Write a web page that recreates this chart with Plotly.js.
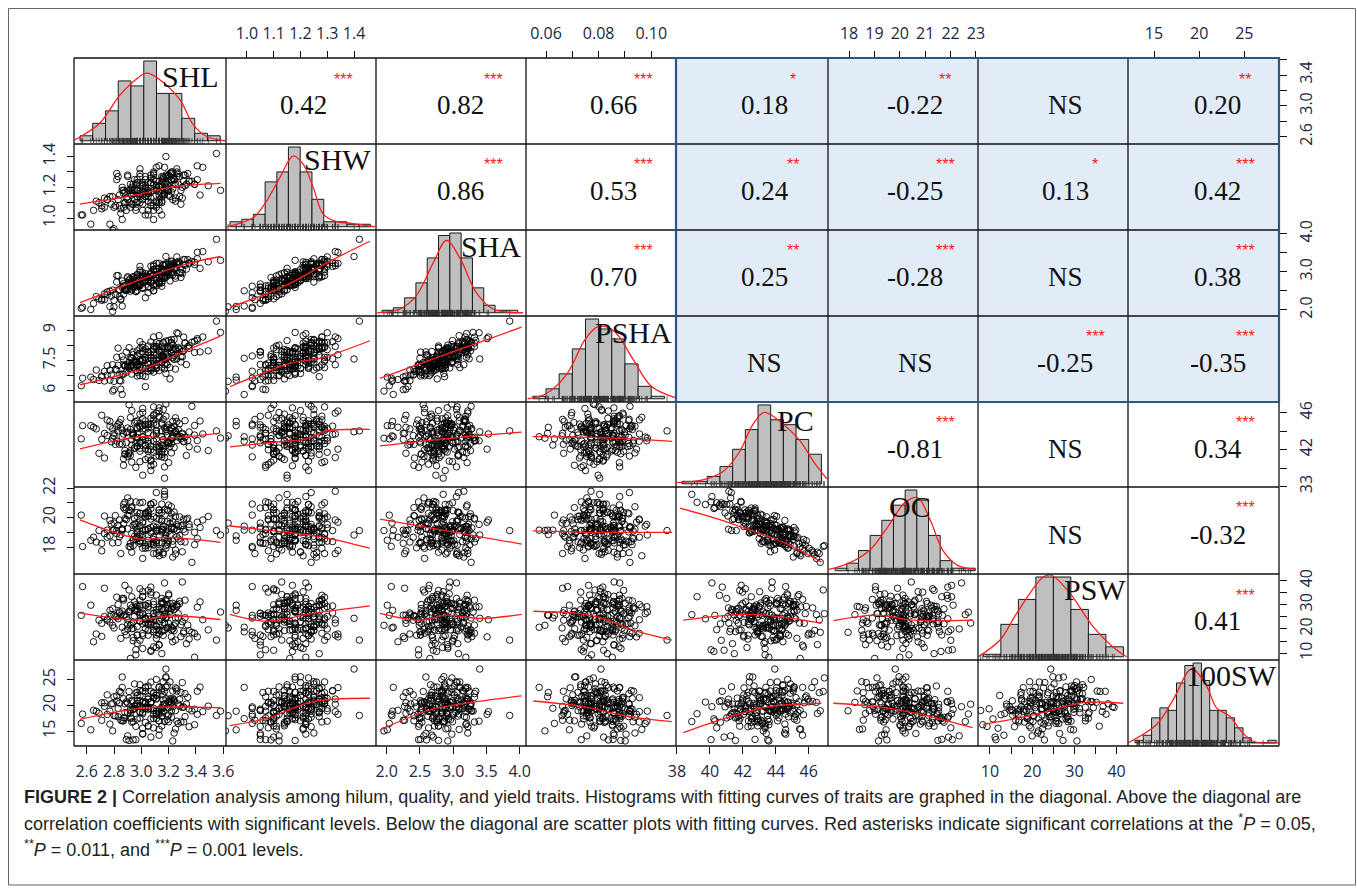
<!DOCTYPE html>
<html>
<head>
<meta charset="utf-8">
<script src="https://cdn.plot.ly/plotly-3.0.1.min.js"></script>
<style>html,body{margin:0;padding:0;background:#fff}#chart{width:1357px;height:891px}</style>
</head>
<body>
<div id="chart"></div>
<script>
// ---------------- sample values (one entry per accession) ----------------
const SHL = [3.11,2.82,3.20,3.07,2.96,3.35,3.01,3.16,2.88,3.05,3.26,2.97,2.73,3.15,3.22,3.03,3.09,2.92,3.30,2.86,
 3.13,3.18,2.99,2.65,3.24,2.94,3.07,3.39,2.90,3.11,3.01,3.16,2.80,3.22,3.05,2.96,3.32,2.84,3.09,3.15,
 2.88,3.55,2.99,3.18,2.94,3.07,2.77,3.20,3.13,3.03,3.28,2.92,3.11,2.97,3.16,2.69,3.05,3.24,3.01,3.22,
 2.84,3.13,3.34,2.96,3.09,2.90,3.18,2.99,3.37,2.78,3.07,3.15,2.94,3.26,3.03,2.86,3.20,3.11,2.56,3.16,
 2.97,3.30,3.01,3.05,3.22,2.82,3.13,2.92,3.58,2.99,3.18,2.88,3.09,3.24,2.96,3.07,2.75,3.15,3.03,3.28,
 2.94,3.11,3.20,2.80,3.16,3.01,3.41,2.90,3.05,2.97,3.32,2.86,3.09,3.18,2.99,2.71,3.26,3.13,2.92,3.22,
 3.17,2.87,3.05,3.27,2.97,2.71,3.15,3.23,3.03,3.09,2.91,3.31,2.85,3.13,3.19,2.99,2.63,3.25,2.93,3.07,
 3.41,2.89,3.11,3.01,3.17,2.79,3.23,3.05,2.95,3.33,2.83,3.09,3.15,2.87,3.49,2.99,3.19,2.93,3.07,2.75,
 3.21,3.13,3.03,3.29,2.91,3.11,2.97,3.17,2.67,3.05,3.25,3.01,3.23,2.83,3.13,3.35,2.95,3.09,2.89,3.19,
 2.99,3.39,2.77,3.07,3.15,2.93,3.27,3.03,2.85,3.21,3.11,2.57,3.17,2.97,3.31,3.01,3.05,3.23,2.81,3.13,
 2.91,3.45,2.99,3.19,2.87,3.09,3.25,2.95,3.07,2.73,3.15,3.03,3.29,2.93,3.11,3.21,2.79,3.17,3.01,3.43];
const SHW = [1.11,1.29,1.18,1.23,1.10,1.24,1.05,1.25,1.17,1.16,1.30,1.10,1.13,1.16,1.25,1.02,1.18,1.22,1.20,1.20,
 1.10,1.23,1.27,1.05,1.22,1.09,1.23,1.22,1.27,1.07,1.17,1.23,1.07,1.29,1.16,1.07,1.28,1.15,0.99,1.24,
 1.10,1.42,1.14,1.20,1.22,1.08,1.14,1.15,1.34,1.14,1.27,1.07,1.20,1.23,1.15,1.10,1.05,1.25,1.15,1.30,
 1.08,1.21,1.29,1.05,1.22,1.12,1.40,1.10,1.24,1.09,1.28,1.11,1.16,1.27,1.14,0.99,1.28,1.21,1.02,1.26,
 1.18,1.13,1.22,1.18,1.17,1.25,1.17,1.19,1.18,1.16,1.28,1.10,1.05,1.25,1.22,1.17,1.12,1.14,1.27,1.14,
 1.18,1.24,1.18,0.93,1.27,1.12,1.25,1.28,1.11,1.18,1.21,1.18,1.08,1.27,1.16,1.06,1.32,1.10,1.16,1.24,
 1.16,1.18,1.02,1.22,1.23,1.08,1.27,1.12,1.20,1.30,1.10,1.24,1.06,1.24,1.18,1.29,0.96,1.22,1.18,1.13,
 1.34,1.13,1.10,1.23,1.22,0.92,1.26,1.14,1.25,1.22,1.12,1.25,1.10,1.16,1.21,1.32,1.18,1.20,1.10,1.12,
 1.29,1.15,1.17,1.09,1.18,1.18,1.25,1.15,1.11,1.23,1.11,1.21,1.19,1.27,1.12,1.24,1.12,1.29,1.05,1.22,
 1.21,1.22,0.96,1.26,1.22,1.09,1.29,1.19,1.03,1.27,1.19,1.02,1.33,1.14,1.28,1.09,1.17,1.30,1.08,1.05,
 1.18,1.33,1.15,1.22,1.07,1.28,1.13,1.18,1.23,1.07,1.02,1.25,1.18,1.15,1.33,1.14,1.14,1.18,1.21,1.15];
const SHA = [2.68,2.90,3.00,2.88,2.60,3.22,2.59,3.05,2.64,2.76,3.39,2.51,2.42,2.90,3.12,2.32,2.92,2.82,3.06,2.76,
 2.72,2.98,3.04,2.17,3.07,2.60,2.94,3.25,2.84,2.63,2.83,3.02,2.25,3.26,2.84,2.48,3.32,2.53,2.50,2.98,
 2.52,3.85,2.67,2.86,2.87,2.57,2.49,2.99,3.22,2.74,3.23,2.49,2.84,2.93,2.87,2.29,2.60,3.08,2.74,3.28,
 2.35,3.09,3.32,2.48,2.92,2.56,3.40,2.63,3.27,2.36,3.15,2.71,2.70,3.19,2.76,2.10,3.21,3.01,2.04,3.17,
 2.68,2.95,2.98,2.79,2.96,2.73,2.91,2.71,3.30,2.64,3.19,2.52,2.51,3.22,2.83,2.75,2.47,2.82,2.87,2.97,
 2.69,3.08,2.94,2.08,3.19,2.57,3.34,2.87,2.78,2.73,3.17,2.59,2.63,3.21,2.69,2.25,3.24,2.74,2.65,3.20,
 2.83,2.69,2.45,3.20,2.83,2.29,3.08,2.92,2.79,3.14,2.55,3.19,2.29,3.09,2.96,2.99,2.01,3.11,2.66,2.76,
 3.51,2.53,2.78,2.88,3.05,1.96,3.16,2.78,2.87,3.07,2.52,3.06,2.72,2.63,3.26,3.14,2.89,2.78,2.70,2.40,
 3.10,2.87,2.76,2.85,2.78,2.83,2.92,2.85,2.35,2.88,2.89,2.85,2.99,2.90,2.71,3.23,2.61,3.06,2.51,3.02,
 2.88,3.19,2.09,2.95,3.05,2.53,3.27,2.89,2.27,3.18,2.88,2.07,3.16,2.65,3.32,2.57,2.85,3.20,2.41,2.68,
 2.67,3.53,2.66,3.07,2.41,3.18,2.83,2.74,2.98,2.27,2.62,2.95,2.98,2.69,3.22,2.76,2.52,2.91,2.92,3.09];
const PSHA = [7.52,8.20,8.83,7.50,7.89,8.80,8.56,8.11,7.62,7.73,9.83,6.96,7.27,8.57,8.51,6.26,8.77,8.17,8.24,8.27,
 8.06,7.80,8.79,6.73,8.32,8.37,8.16,9.27,7.55,7.72,8.58,8.25,6.06,9.15,8.51,7.34,9.15,7.06,8.14,7.87,
 7.61,10.60,7.59,7.13,8.55,7.32,7.35,9.31,8.37,8.03,8.77,7.68,7.45,8.63,8.18,6.67,8.34,8.06,7.98,9.18,
 6.66,9.64,8.91,7.73,7.94,7.55,8.09,8.06,9.19,7.03,9.22,7.54,7.91,8.60,8.21,5.74,8.79,8.90,6.32,9.16,
 7.21,8.59,9.04,7.73,8.46,7.36,8.58,7.62,9.85,6.99,8.80,7.67,7.22,9.38,7.95,7.42,7.65,8.24,6.92,8.71,
 7.55,9.17,8.23,6.61,9.19,6.98,9.33,7.70,8.95,7.69,9.14,7.09,7.82,9.28,7.53,6.90,8.10,8.18,7.61,9.38,
 7.44,8.03,7.28,9.77,7.61,6.96,8.33,9.01,7.47,8.71,7.86,8.63,6.09,9.11,8.55,7.94,6.89,8.79,7.09,8.35,
 9.44,7.21,8.82,8.02,8.80,5.96,8.71,8.53,7.88,7.72,7.67,8.94,7.85,7.73,8.63,9.24,7.71,8.12,8.19,7.02,
 7.52,8.67,7.61,8.25,8.84,7.66,8.33,8.04,7.36,7.47,8.71,8.07,8.16,8.81,7.32,8.98,7.89,8.02,8.55,8.29,
 8.47,8.52,6.69,7.50,8.89,7.67,8.86,8.76,6.63,8.89,7.96,6.82,7.71,7.71,9.54,7.48,8.54,8.20,7.42,8.59,
 7.46,9.55,7.32,8.89,7.08,9.55,7.42,7.90,8.58,6.63,8.29,8.20,7.90,8.17,8.92,6.77,7.71,8.04,8.85,8.56];
const PC = [43.98,44.52,42.75,39.73,45.04,42.31,43.42,46.36,41.90,43.85,42.96,44.27,41.09,44.88,43.26,42.49,45.68,41.38,43.67,44.11,
 41.77,46.95,42.83,44.43,42.22,43.51,40.75,44.62,43.92,43.16,45.34,42.06,43.77,42.66,44.36,40.07,43.34,44.94,42.91,44.79,
 41.47,44.03,45.85,42.41,43.60,41.98,44.55,42.71,46.19,40.92,43.44,44.19,42.25,45.13,43.09,41.60,44.70,43.86,39.22,44.28,
 42.58,45.51,43.00,43.35,44.87,41.26,43.94,42.15,46.70,42.84,44.46,41.73,43.70,45.06,42.50,43.40,40.58,44.10,43.17,45.29,
 42.33,43.78,44.61,41.13,44.38,42.92,46.53,41.88,43.25,42.67,45.63,41.55,43.59,44.53,42.74,40.24,45.21,44.02,42.07,44.80,
 43.83,41.30,44.68,43.49,42.42,46.02,42.99,44.35,41.81,43.28,45.14,42.60,40.41,44.18,44.85,43.11,43.66,42.13,45.48,41.64,
 44.38,41.02,44.77,43.36,42.40,45.73,41.48,43.58,44.21,41.71,46.88,42.85,44.42,42.33,43.52,40.69,44.60,44.05,43.08,45.40,
 42.05,43.87,42.57,44.26,40.12,43.24,45.06,42.90,44.89,41.37,44.04,45.79,42.51,43.69,41.89,44.55,42.73,46.24,40.86,43.53,
 44.09,42.34,45.11,43.19,41.55,44.72,43.75,38.90,44.25,42.68,45.45,43.02,43.35,44.77,41.31,43.92,42.17,46.64,42.74,44.43,
 41.83,43.58,45.07,42.39,43.41,40.64,44.21,43.07,45.28,42.34,43.75,44.60,41.15,44.38,42.91,46.47,41.99,43.25,42.57,45.62,
 41.66,43.70,44.43,42.85,40.30,45.23,43.93,42.16,44.77,43.76,41.21,44.71,43.41,42.51,45.96,43.01,44.27,41.72,43.35,45.11];
const OC = [19.28,19.91,21.47,21.89,19.52,20.36,20.63,18.50,22.04,19.19,20.54,20.06,21.11,20.15,20.24,20.15,19.52,21.47,18.68,20.21,
 20.87,19.10,20.45,19.67,21.38,19.49,21.89,19.16,21.14,20.21,19.64,20.39,20.15,21.26,19.46,22.07,19.34,19.70,20.42,20.21,
 20.93,20.12,19.43,19.97,20.48,20.90,20.81,20.09,18.77,21.32,21.05,19.25,20.96,19.73,20.21,20.12,20.24,20.27,22.04,20.30,
 20.84,18.41,20.96,20.36,19.19,22.34,19.82,21.29,17.96,20.57,20.33,20.87,19.10,19.70,21.29,20.15,21.86,19.43,21.17,18.62,
 21.08,20.45,19.40,20.21,20.36,20.12,18.65,22.10,19.82,20.84,18.92,21.56,19.34,20.21,20.57,21.62,20.15,19.28,21.05,19.79,
 19.49,22.70,19.40,20.63,20.39,18.92,19.58,20.24,21.35,20.24,20.03,20.24,22.01,19.61,19.85,19.25,20.12,21.53,19.01,21.74,
 19.58,21.89,18.95,20.42,21.35,18.74,21.35,19.16,20.15,21.05,19.04,20.21,19.85,21.32,19.43,22.01,19.46,21.08,19.91,19.22,
 20.69,20.87,20.06,19.88,22.43,20.12,18.32,21.14,19.73,20.87,20.48,19.13,20.03,20.60,21.08,19.37,21.53,18.65,21.92,19.67,
 19.85,21.50,19.07,19.37,21.50,20.12,19.97,22.58,19.34,21.44,18.53,20.72,20.72,19.31,20.12,20.54,20.57,18.56,21.65,19.19,
 21.29,20.00,19.76,19.97,20.75,21.74,19.55,21.23,18.56,20.96,20.33,19.04,22.79,19.58,20.90,18.23,21.08,19.40,21.14,19.28,
 21.14,20.84,19.25,20.75,21.68,19.67,18.80,20.93,20.09,19.91,21.92,18.92,20.45,21.65,18.56,20.60,19.28,21.53,20.12,20.33];
const PSW = [21.4,33.1,22.3,24.2,30.0,15.8,26.5,19.4,38.0,21.7,29.2,17.5,25.1,31.3,20.8,24.5,12.6,27.9,23.0,32.6,
 19.5,26.3,29.9,14.7,28.0,22.9,37.3,18.1,23.7,21.0,33.5,17.3,25.7,28.6,22.2,11.4,31.9,27.1,18.8,30.5,
 25.8,15.4,29.3,24.9,20.2,35.2,22.8,28.5,17.9,24.3,31.4,21.5,12.3,27.2,30.7,23.6,25.2,19.3,33.3,16.8,
 26.6,29.1,21.6,9.3,31.2,20.0,24.4,36.6,18.6,25.9,22.4,28.4,15.1,30.1,23.8,20.7,33.9,16.1,25.6,27.7,
 17.4,39.4,22.1,28.7,19.6,25.0,13.5,29.8,27.0,23.1,32.2,18.9,26.4,21.3,27.9,10.7,24.1,30.8,22.7,30.4,
 16.5,26.9,34.5,20.4,25.3,18.2,29.0,21.8,35.9,14.0,24.6,27.4,19.7,31.6,23.4,16.9,29.5,26.2,7.8,28.3,
 19.5,32.6,17.4,26.3,29.4,22.3,9.8,30.6,20.2,25.1,36.1,18.9,25.7,22.1,28.6,15.3,29.8,24.5,20.1,34.2,
 16.7,24.9,28.0,17.2,39.0,21.5,29.3,19.3,25.2,13.9,30.1,26.3,23.8,31.9,19.6,26.6,20.7,28.7,11.2,23.6,
 30.5,23.1,29.8,16.8,27.3,34.0,21.0,25.9,17.9,29.3,22.4,35.4,14.7,24.2,28.0,19.3,31.2,23.8,17.5,30.1,
 25.6,8.3,27.7,21.7,32.6,22.1,24.5,29.8,16.1,27.3,19.6,37.5,22.4,28.4,18.2,25.9,30.5,20.0,25.2,13.3,
 27.0,23.8,31.9,20.3,25.6,30.1,15.4,27.7,23.1,36.8,18.9,24.5,21.7,33.3,17.5,25.9,28.4,22.4,11.9,31.2];
const SW100 = [22.03,20.88,18.15,20.66,20.04,15.87,14.55,24.62,20.33,21.76,16.95,20.94,20.52,18.58,21.06,19.46,18.20,18.49,24.46,17.01,
 17.02,25.36,18.67,19.06,21.13,13.30,22.75,19.27,18.55,18.91,18.68,22.04,21.69,20.39,19.37,13.35,22.30,20.45,17.45,23.25,
 18.61,18.06,21.88,25.59,16.88,20.62,16.38,16.83,23.48,19.73,21.17,17.59,21.94,17.37,21.12,18.50,19.28,20.83,18.39,18.94,
 22.76,15.34,21.59,15.93,22.38,14.09,27.08,18.80,18.96,20.29,19.39,17.90,19.21,23.23,16.70,23.52,20.77,18.49,16.51,20.18,
 22.55,19.62,14.42,21.22,20.55,21.86,18.44,19.25,18.90,19.98,23.52,17.58,18.99,14.64,22.48,17.40,18.26,22.87,23.43,19.88,
 19.26,18.35,19.57,18.01,18.82,20.71,22.76,20.46,15.97,19.84,17.84,25.53,15.64,21.34,19.81,17.12,22.80,18.83,19.02,17.71,
 22.72,17.58,19.73,16.49,20.35,20.52,19.35,13.10,22.73,19.44,22.72,19.72,22.52,19.23,17.24,20.92,15.27,23.43,21.01,20.72,
 18.28,20.71,17.45,19.29,19.76,15.06,22.82,16.04,24.19,20.27,19.44,21.55,16.01,21.30,19.87,22.90,19.58,20.79,13.85,22.06,
 24.58,16.99,23.58,16.78,13.20,25.06,20.35,16.88,18.87,23.78,15.44,22.81,19.72,17.80,23.62,19.31,19.41,22.49,13.40,23.87,
 17.55,16.26,18.89,24.55,19.63,16.74,20.29,20.42,17.12,20.79,21.40,18.31,20.25,21.93,16.78,20.59,21.28,21.39,17.99,14.22,
 21.44,18.80,24.03,17.93,17.02,21.51,18.99,19.83,20.60,19.82,17.90,20.66,22.54,17.50,21.25,21.29,20.37,20.25,15.58,23.58];

// ---------------- histograms on the diagonal (bin edges + bar heights) ----------------
const histEdges_SHL = [2.551,2.644,2.738,2.831,2.924,3.018,3.111,3.204,3.297,3.391,3.484,3.577];
const histCounts_SHL = [2,7,12,24,22,32,19,19,9,3,2];
const histEdges_SHW = [0.937,0.981,1.024,1.068,1.112,1.155,1.199,1.243,1.287,1.330,1.374,1.418,1.461];
const histCounts_SHW = [2,3,5,18,22,32,22,11,2,2,1,1];
const histEdges_SHA = [1.93,2.10,2.27,2.44,2.61,2.78,2.95,3.12,3.29,3.46,3.63,3.80,3.97];
const histCounts_SHA = [1,2,6,12,22,31,32,22,10,3,1,1];
const histEdges_PSHA = [5.5,6.0,6.5,7.0,7.5,8.0,8.5,9.0,9.5,10.0,10.5];
const histCounts_PSHA = [1,4,10,20,32,28,24,14,5,1];
const histEdges_PC = [38.30,39.07,39.84,40.61,41.38,42.15,42.92,43.69,44.46,45.23,46.00,46.77];
const histCounts_PC = [1,1,3,7,14,22,32,26,24,18,12];
const histEdges_OC = [17.45,17.91,18.37,18.83,19.29,19.75,20.21,20.67,21.13,21.59,22.05,22.51,22.97];
const histCounts_OC = [1,3,8,14,20,26,32,28,14,4,1,1];
const histEdges_PSW = [8.42,12.57,16.72,20.87,25.02,29.17,33.32,37.47,41.62];
const histCounts_PSW = [1,13,23,32,32,19,9,4];
const histEdges_SW100 = [12.89,13.81,14.73,15.65,16.57,17.49,18.41,19.33,20.25,21.17,22.09,23.01,23.93,24.85,25.77,26.69,27.61,28.53];
const histCounts_SW100 = [1,3,10,14,13,24,31,32,25,13,13,10,6,2,0,0,1];

// fitted density curves on the diagonal
const densX_SHL = [2.51,2.551,2.697,2.844,2.941,3.039,3.137,3.283,3.381,3.479,3.613];
const densY_SHL = [0.3,1.5,7.1,18.4,23.7,27.1,24.4,16.4,6.4,1.7,0];
const densX_SHW = [0.925,1.024,1.074,1.123,1.173,1.210,1.248,1.285,1.335,1.397,1.478];
const densY_SHW = [0,3.7,10.4,19.7,28.4,25.1,15.7,5.1,2.1,1.3,0];
const densX_SHA = [1.86,2.2,2.45,2.7,2.9,3.1,3.35,3.6,4.05];
const densY_SHA = [0,1.5,7,20,29,22,8,1.5,0];
const densX_PSHA = [5.3,6.0,6.8,7.5,8.0,8.6,9.3,10.0,10.9];
const densY_PSHA = [0,2,10,24,29,27,16,5,0.5];
const densX_PC = [38.0,39.5,40.8,41.8,42.6,43.3,44.3,45.4,46.4,47.1];
const densY_PC = [0.5,1.5,5,13,24,29,25,18,8,2];
const densX_OC = [17.2,18.0,18.8,19.5,20.2,20.7,21.2,21.7,22.3,23.0];
const densY_OC = [0.5,3,8,17,27,29,20,8,2,0.5];
const densX_PSW = [7.23,12.37,16.33,22.63,24.62,28.96,34.48,40.0,42.4];
const densY_PSW = [0,6.7,17.4,32,32.7,25.4,12,2.7,0];
const densX_SW100 = [12.15,15.29,17.13,19.17,20.83,21.93,23.4,24.51,25.98,28.93];
const densY_SW100 = [0,7.3,17.3,29.6,22.6,14,10.6,5.3,0.6,0];

// ---------------- fitted (smoothed) curves below the diagonal ----------------
const fit_SHW_SHL_x = [2.55,2.99,3.21,3.58], fit_SHW_SHL_y = [1.09,1.155,1.20,1.225];
const fit_SHA_SHL_x = [2.55,2.99,3.36,3.58], fit_SHA_SHL_y = [2.19,2.79,3.23,3.40];
const fit_SHA_SHW_x = [0.937,1.136,1.322,1.459], fit_SHA_SHW_y = [2.07,2.61,3.32,3.80];
const fit_PSHA_SHL_x = [2.55,3.06,3.28,3.58], fit_PSHA_SHL_y = [6.37,7.58,8.47,9.61];
const fit_PSHA_SHW_x = [0.937,1.161,1.273,1.459], fit_PSHA_SHW_y = [6.25,7.80,8.14,9.30];
const fit_PSHA_SHA_x = [1.90,2.95,4.03], fit_PSHA_SHA_y = [6.8,8.5,10.2];
const fit_PC_SHL_x = [2.55,2.99,3.18,3.58], fit_PC_SHL_y = [42.07,43.42,43.25,43.79];
const fit_PC_SHW_x = [0.937,1.074,1.235,1.285,1.459], fit_PC_SHW_y = [42.29,42.72,43.25,43.96,44.2];
const fit_PC_SHA_x = [1.90,2.9,4.03], fit_PC_SHA_y = [42.4,43.2,43.9];
const fit_PC_PSHA_x = [5.5,8.0,10.8], fit_PC_PSHA_y = [43.4,43.3,42.9];
const fit_OC_SHL_x = [2.55,3.0,3.18,3.58], fit_OC_SHL_y = [20.84,19.53,19.66,19.32];
const fit_OC_SHW_x = [0.937,1.13,1.285,1.459], fit_OC_SHW_y = [20.43,20.04,19.66,18.92];
const fit_OC_SHA_x = [1.90,2.9,4.03], fit_OC_SHA_y = [20.9,20.1,19.2];
const fit_OC_PSHA_x = [5.5,8.0,10.8], fit_OC_PSHA_y = [20.1,20.0,20.0];
const fit_OC_PC_x = [38.18,40.5,42.4,44.5,46.79], fit_OC_PC_y = [21.65,20.9,20.16,19.3,17.98];
const fit_PSW_SHL_x = [2.55,2.99,3.18,3.58], fit_PSW_SHL_y = [26.6,23.6,25.3,23.9];
const fit_PSW_SHW_x = [0.937,1.074,1.248,1.459], fit_PSW_SHW_y = [26.0,23.2,26.4,29.5];
const fit_PSW_SHA_x = [1.90,2.50,2.90,3.40,4.03], fit_PSW_SHA_y = [26.4,23.6,25.7,24.3,26.0];
const fit_PSW_PSHA_x = [5.52,7.17,8.18,9.32,10.78], fit_PSW_PSHA_y = [27.3,26.4,24.3,19.5,15.4];
const fit_PSW_PC_x = [38.38,42.62,46.77], fit_PSW_PC_y = [23.6,26.0,22.3];
const fit_PSW_OC_x = [17.38,19.09,20.53,22.87], fit_PSW_OC_y = [23.4,25.7,23.6,23.6];
const fit_SW_SHL_x = [2.55,3.0,3.58], fit_SW_SHL_y = [17.31,19.45,19.57];
const fit_SW_SHW_x = [0.937,1.074,1.248,1.459], fit_SW_SHW_y = [16.07,17.51,20.74,21.4];
const fit_SW_SHA_x = [1.90,2.65,3.35,4.03], fit_SW_SHA_y = [15.23,19.12,20.74,21.85];
const fit_SW_PSHA_x = [5.52,7.42,9.19,10.78], fit_SW_PSHA_y = [20.87,19.77,17.82,16.85];
const fit_SW_PC_x = [38.38,41.0,43.64,46.77], fit_SW_PC_y = [14.71,17.6,19.77,20.43];
const fit_SW_OC_x = [17.38,19.09,20.66,22.87], fit_SW_OC_y = [20.43,19.77,18.48,15.68];
const fit_SW_PSW_x = [8.42,20.26,32.11,41.59], fit_SW_PSW_y = [16.34,18.15,20.54,20.43];

// ---------------- correlation coefficients above the diagonal ----------------
const corrRow0 = ['', '0.42', '0.82', '0.66', '0.18', '-0.22', 'NS', '0.20'];
const corrRow1 = ['', '', '0.86', '0.53', '0.24', '-0.25', '0.13', '0.42'];
const corrRow2 = ['', '', '', '0.70', '0.25', '-0.28', 'NS', '0.38'];
const corrRow3 = ['', '', '', '', 'NS', 'NS', '-0.25', '-0.35'];
const corrRow4 = ['', '', '', '', '', '-0.81', 'NS', '0.34'];
const corrRow5 = ['', '', '', '', '', '', 'NS', '-0.32'];
const corrRow6 = ['', '', '', '', '', '', '', '0.41'];
const starRow0 = ['', '***', '***', '***', '*', '**', '', '**'];
const starRow1 = ['', '', '***', '***', '**', '***', '*', '***'];
const starRow2 = ['', '', '', '***', '**', '***', '', '***'];
const starRow3 = ['', '', '', '', '', '', '***', '***'];
const starRow4 = ['', '', '', '', '', '***', '', '***'];
const starRow5 = ['', '', '', '', '', '', '', '***'];
const starRow6 = ['', '', '', '', '', '', '', '***'];

// ---------------- axis ticks ----------------
const traitNames = ['SHL', 'SHW', 'SHA', 'PSHA', 'PC', 'OC', 'PSW', '100SW'];
const tickVals_SHL = [2.6,2.8,3.0,3.2,3.4,3.6];
const tickText_SHL_x = ['2.6','2.8','3.0','3.2','3.4','3.6'];
const tickText_SHL_y = ['2.6','','3.0','','3.4',''];
const tickVals_SHW = [1.0,1.1,1.2,1.3,1.4];
const tickText_SHW_x = ['1.0','1.1','1.2','1.3','1.4'];
const tickText_SHW_y = ['1.0','','1.2','','1.4'];
const tickVals_SHA = [2.0,2.5,3.0,3.5,4.0];
const tickText_SHA_x = ['2.0','2.5','3.0','3.5','4.0'];
const tickText_SHA_y = ['2.0','','3.0','','4.0'];
const tickVals_PSHA = [6,7,8,9,10];
const tickText_PSHA_x = ['0.06','','0.08','','0.10'];
const tickText_PSHA_y = ['6','','7.5','','9'];
const tickVals_PC = [38,40,42,44,46];
const tickText_PC_x = ['38','40','42','44','46'];
const tickText_PC_y = ['33','','42','','46'];
const tickVals_OC_x = [18,19,20,21,22,23];
const tickText_OC_x = ['18','19','20','21','22','23'];
const tickVals_OC_y = [19,20,21,22,23];
const tickText_OC_y = ['18','','20','','22'];
const tickVals_PSW = [10,15,20,25,30,35,40];
const tickText_PSW = ['10','','20','','30','','40'];
const tickVals_SW = [15,20,25];
const tickText_SW = ['15','20','25'];

// ================= build the figure =================
const W = 1357, H = 891;
const colEdges = [74, 226, 376, 526, 676, 828, 978, 1128, 1279];
const rowEdges = [58, 144, 230, 316, 402, 487, 574, 660, 746];
const PX = p => p / W;
const PY = p => 1 - p / H;
const axisRanges = [[2.507,3.62],[0.922,1.482],[1.84,4.095],[5.24,10.94],[37.94,47.17],[17.17,23.08],[7.16,42.7],[12.12,28.84]];
const diagRange = [-1.3, 33.2];

const values = [SHL, SHW, SHA, PSHA, PC, OC, PSW, SW100];
const histEdges = [histEdges_SHL, histEdges_SHW, histEdges_SHA, histEdges_PSHA, histEdges_PC, histEdges_OC, histEdges_PSW, histEdges_SW100];
const histCounts = [histCounts_SHL, histCounts_SHW, histCounts_SHA, histCounts_PSHA, histCounts_PC, histCounts_OC, histCounts_PSW, histCounts_SW100];
const densX = [densX_SHL, densX_SHW, densX_SHA, densX_PSHA, densX_PC, densX_OC, densX_PSW, densX_SW100];
const densY = [densY_SHL, densY_SHW, densY_SHA, densY_PSHA, densY_PC, densY_OC, densY_PSW, densY_SW100];
const fits = [
  [1,0,fit_SHW_SHL_x,fit_SHW_SHL_y],
  [2,0,fit_SHA_SHL_x,fit_SHA_SHL_y],[2,1,fit_SHA_SHW_x,fit_SHA_SHW_y],
  [3,0,fit_PSHA_SHL_x,fit_PSHA_SHL_y],[3,1,fit_PSHA_SHW_x,fit_PSHA_SHW_y],[3,2,fit_PSHA_SHA_x,fit_PSHA_SHA_y],
  [4,0,fit_PC_SHL_x,fit_PC_SHL_y],[4,1,fit_PC_SHW_x,fit_PC_SHW_y],[4,2,fit_PC_SHA_x,fit_PC_SHA_y],[4,3,fit_PC_PSHA_x,fit_PC_PSHA_y],
  [5,0,fit_OC_SHL_x,fit_OC_SHL_y],[5,1,fit_OC_SHW_x,fit_OC_SHW_y],[5,2,fit_OC_SHA_x,fit_OC_SHA_y],[5,3,fit_OC_PSHA_x,fit_OC_PSHA_y],[5,4,fit_OC_PC_x,fit_OC_PC_y],
  [6,0,fit_PSW_SHL_x,fit_PSW_SHL_y],[6,1,fit_PSW_SHW_x,fit_PSW_SHW_y],[6,2,fit_PSW_SHA_x,fit_PSW_SHA_y],[6,3,fit_PSW_PSHA_x,fit_PSW_PSHA_y],[6,4,fit_PSW_PC_x,fit_PSW_PC_y],[6,5,fit_PSW_OC_x,fit_PSW_OC_y],
  [7,0,fit_SW_SHL_x,fit_SW_SHL_y],[7,1,fit_SW_SHW_x,fit_SW_SHW_y],[7,2,fit_SW_SHA_x,fit_SW_SHA_y],[7,3,fit_SW_PSHA_x,fit_SW_PSHA_y],[7,4,fit_SW_PC_x,fit_SW_PC_y],[7,5,fit_SW_OC_x,fit_SW_OC_y],[7,6,fit_SW_PSW_x,fit_SW_PSW_y]
];
const corrRows = [corrRow0, corrRow1, corrRow2, corrRow3, corrRow4, corrRow5, corrRow6];
const starRows = [starRow0, starRow1, starRow2, starRow3, starRow4, starRow5, starRow6];

const xn = j => j === 0 ? 'x' : 'x' + (j + 1);
const yn = i => i === 0 ? 'y' : 'y' + (i + 1);
const xk = j => j === 0 ? 'xaxis' : 'xaxis' + (j + 1);
const yk = i => i === 0 ? 'yaxis' : 'yaxis' + (i + 1);

const traces = [];
for (let i = 1; i < 8; i++) {
  for (let j = 0; j < i; j++) {
    traces.push({type:'scatter', mode:'markers', x: values[j], y: values[i], xaxis: xn(j), yaxis: yn(i),
      marker:{symbol:'circle-open', size:6.5, color:'rgba(0,0,0,0.9)', line:{width:1}},
      hoverinfo:'skip', showlegend:false});
  }
}
fits.forEach(f => {
  traces.push({type:'scatter', mode:'lines', x:f[2], y:f[3], xaxis:xn(f[1]), yaxis:yn(f[0]),
    line:{color:'#ff1c1c', width:1.3, shape:'spline', smoothing:1}, hoverinfo:'skip', showlegend:false});
});
for (let d = 0; d < 8; d++) {
  const e = histEdges[d], c = histCounts[d];
  const centers = c.map((_, k) => (e[k] + e[k+1]) / 2);
  const widths = c.map((_, k) => e[k+1] - e[k]);
  traces.push({type:'bar', x:centers, y:c, width:widths, xaxis:xn(d), yaxis:yn(8+d),
    marker:{color:'#bfbfbf', line:{color:'#1a1a1a', width:1}}, hoverinfo:'skip', showlegend:false});
  traces.push({type:'scatter', mode:'markers', x: values[d], y: values[d].map(() => 0), xaxis:xn(d), yaxis:yn(8+d),
    marker:{symbol:'line-ns-open', size:4, color:'#333', line:{width:0.8, color:'#333'}}, hoverinfo:'skip', showlegend:false});
  traces.push({type:'scatter', mode:'lines', x:densX[d], y:densY[d], xaxis:xn(d), yaxis:yn(8+d),
    line:{color:'#ff1c1c', width:1.3, shape:'spline', smoothing:1}, hoverinfo:'skip', showlegend:false});
}

const tickFont = {family:'Open Sans, Lato, sans-serif', size:16, color:'#1b2745'};
const xTickVals = [tickVals_SHL, tickVals_SHW, tickVals_SHA, tickVals_PSHA, tickVals_PC, tickVals_OC_x, tickVals_PSW, tickVals_SW];
const xTickText = [tickText_SHL_x, tickText_SHW_x, tickText_SHA_x, tickText_PSHA_x, tickText_PC_x, tickText_OC_x, tickText_PSW, tickText_SW];
const yTickVals = [tickVals_SHL, tickVals_SHW, tickVals_SHA, tickVals_PSHA, tickVals_PC, tickVals_OC_y, tickVals_PSW, tickVals_SW];
const yTickText = [tickText_SHL_y, tickText_SHW_y, tickText_SHA_y, tickText_PSHA_y, tickText_PC_y, tickText_OC_y, tickText_PSW, tickText_SW];

const layout = {
  width: W, height: H, margin:{l:0, r:0, t:0, b:0, pad:0},
  paper_bgcolor:'#ffffff', plot_bgcolor:'rgba(0,0,0,0)', showlegend:false, hovermode:false,
  bargap:0, shapes:[], annotations:[]
};
const tickCommon = {tickmode:'array', ticks:'outside', ticklen:7, tickwidth:1, tickcolor:'#111',
  showgrid:false, zeroline:false, showline:false, tickfont:tickFont, fixedrange:true};
for (let j = 0; j < 8; j++) {
  const top = j % 2 === 1;
  layout[xk(j)] = Object.assign({}, tickCommon, {domain:[PX(colEdges[j]), PX(colEdges[j+1])], range: axisRanges[j],
    anchor:'free', position: top ? PY(58) : PY(746), side: top ? 'top' : 'bottom',
    tickvals:xTickVals[j], ticktext:xTickText[j], ticklabelstandoff: top ? 6 : 4});
}
for (let i = 0; i < 8; i++) {
  const left = i % 2 === 1;
  const dom = [PY(rowEdges[i+1]), PY(rowEdges[i])];
  if (i === 0) {
    layout[yk(i)] = {domain:dom, range:axisRanges[i], visible:false, anchor:'free', position:PX(1279)};
  } else {
    layout[yk(i)] = Object.assign({}, tickCommon, {domain:dom, range: axisRanges[i],
      anchor:'free', position: left ? PX(74) : PX(1279), side: left ? 'left' : 'right',
      tickvals:yTickVals[i], ticktext:yTickText[i], tickangle:-90, ticklabelstandoff:6});
  }
  if (i === 0) {
    // the first row has only its histogram; its SHL scale is shown on the histogram axis
    const r = axisRanges[0];
    const mapped = tickVals_SHL.map(v => diagRange[0] + (v - r[0]) / (r[1] - r[0]) * (diagRange[1] - diagRange[0]));
    layout[yk(8+i)] = Object.assign({}, tickCommon, {domain:dom, range: diagRange,
      anchor:'free', position:PX(1279), side:'right',
      tickvals:mapped, ticktext:tickText_SHL_y, tickangle:-90, ticklabelstandoff:6});
  } else {
    layout[yk(8+i)] = {domain:dom, range: diagRange, anchor: xn(i), visible:false, showgrid:false, zeroline:false, fixedrange:true};
  }
}

// shaded block, grid, frame
layout.shapes.push({type:'rect', xref:'paper', yref:'paper', x0:PX(676), x1:PX(1279), y0:PY(402), y1:PY(58),
  fillcolor:'#e2ecf6', line:{width:0}, layer:'below'});
colEdges.forEach(c => layout.shapes.push({type:'line', xref:'paper', yref:'paper', x0:PX(c), x1:PX(c), y0:PY(746), y1:PY(58), line:{color:'#111', width:1.3}}));
rowEdges.forEach(r => layout.shapes.push({type:'line', xref:'paper', yref:'paper', x0:PX(74), x1:PX(1279), y0:PY(r), y1:PY(r), line:{color:'#111', width:1.3}}));
layout.shapes.push({type:'rect', xref:'paper', yref:'paper', x0:PX(676), x1:PX(1279), y0:PY(402), y1:PY(58),
  fillcolor:'rgba(0,0,0,0)', line:{color:'#2b5787', width:2.2}});
layout.shapes.push({type:'rect', xref:'paper', yref:'paper', x0:PX(8.5), x1:PX(1355.5), y0:PY(885), y1:PY(8.5),
  fillcolor:'rgba(0,0,0,0)', line:{color:'#666', width:1}});

// correlation numbers and stars
const numDx = [0, 2, 9, 12, 13, 12, 12, 14];
for (let i = 0; i < 7; i++) {
  for (let j = i + 1; j < 8; j++) {
    const cx = (colEdges[j] + colEdges[j+1]) / 2 + numDx[j];
    const cy = (rowEdges[i] + rowEdges[i+1]) / 2 + 4;
    layout.annotations.push({xref:'paper', yref:'paper', x:PX(cx), y:PY(cy), xanchor:'center', yanchor:'middle',
      text: corrRows[i][j], showarrow:false, font:{family:'Liberation Serif, Times New Roman, serif', size:27, color:'#111'}});
    if (starRows[i][j]) {
      layout.annotations.push({xref:'paper', yref:'paper', x:PX(colEdges[j] + 117), y:PY(rowEdges[i] + 21), xanchor:'center', yanchor:'middle',
        text: starRows[i][j], showarrow:false, font:{family:'Liberation Sans, Arial, sans-serif', size:16, color:'#ff1a1a'}});
    }
  }
}
// trait names on the diagonal
const labelRight = [221, 373, 523, 674, 816, 933, 1128, 1279];
const labelDy = [18, 16, 17, 16, 19, 20, 15, 15];
for (let d = 0; d < 8; d++) {
  layout.annotations.push({xref:'paper', yref:'paper', x:PX(labelRight[d]), y:PY(rowEdges[d] + labelDy[d]), xanchor:'right', yanchor:'middle',
    text: traitNames[d], showarrow:false, font:{family:'Liberation Serif, Times New Roman, serif', size:30, color:'#111'}});
}
// caption
const capFont = {family:'Liberation Sans Narrow, Arial Narrow, Liberation Sans, sans-serif', size:18, color:'#231f20'};
const captionLines = [
  '<b>FIGURE 2 |</b> Correlation analysis among hilum, quality, and yield traits. Histograms with fitting curves of traits are graphed in the diagonal. Above the diagonal are',
  'correlation coefficients with significant levels. Below the diagonal are scatter plots with fitting curves. Red asterisks indicate significant correlations at the <sup>*</sup><i>P</i> = 0.05,',
  '<sup>**</sup><i>P</i> = 0.011, and <sup>***</sup><i>P</i> = 0.001 levels.'
];
const captionY = [797, 822, 848];
captionLines.forEach((t, k) => layout.annotations.push({xref:'paper', yref:'paper', x:PX(22), y:PY(captionY[k]), xanchor:'left', yanchor:'middle',
  text:t, showarrow:false, align:'left', font:capFont}));

Plotly.newPlot('chart', traces, layout, {staticPlot:true, displayModeBar:false});
</script>
</body>
</html>
